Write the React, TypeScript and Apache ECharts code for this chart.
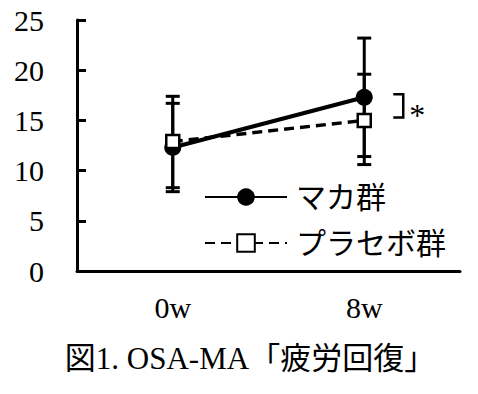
import React, { useEffect, useRef } from 'react';
import * as echarts from 'echarts';

const categories = ['0w', '8w'];
const seriesNames = ['マカ群', 'プラセボ群'];
const macaMean = [12.3, 17.3];
const macaHigh = [16.7, 23.2];
const macaLow = [7.9, 11.4];
const placeboMean = [12.9, 15.0];
const placeboHigh = [17.4, 19.6];
const placeboLow = [8.3, 10.6];
const yMin = 0;
const yMax = 25;
const yInterval = 5;
const titleText = '図1. OSA-MA「疲労回復」';
const sigMark = '*';
const sigIndex = 1;

const FONT = "'Liberation Serif', 'Noto Sans CJK JP', serif";

export default function App() {
  const ref = useRef<HTMLDivElement>(null);
  useEffect(() => {
    if (!ref.current) return;
    const chart = echarts.init(ref.current, null, { renderer: 'svg' });
    const errData = (lo: number[], hi: number[]) => lo.map((l, i) => [i, l, hi[i]]);
    const errRender = (params: any, api: any) => {
      const x = api.value(0);
      const top = api.coord([x, api.value(2)]);
      const bot = api.coord([x, api.value(1)]);
      const hw = 7;
      const style = { stroke: '#000', lineWidth: 3 };
      return {
        type: 'group',
        children: [
          { type: 'line', shape: { x1: top[0], y1: top[1], x2: bot[0], y2: bot[1] }, style },
          { type: 'line', shape: { x1: top[0] - hw, y1: top[1], x2: top[0] + hw, y2: top[1] }, style },
          { type: 'line', shape: { x1: bot[0] - hw, y1: bot[1], x2: bot[0] + hw, y2: bot[1] }, style },
        ],
      };
    };
    chart.setOption({
      animation: false,
      grid: { left: 77, right: 18, top: 20, bottom: 123 },
      legend: {
        data: seriesNames,
        orient: 'vertical',
        left: 204,
        top: 182,
        padding: 0,
        itemWidth: 82,
        itemHeight: 22,
        itemGap: 16,
        textStyle: { fontSize: 30, lineHeight: 22, color: '#000', fontFamily: FONT, padding: [0, 0, 0, 4] },
      },
      xAxis: {
        type: 'category',
        data: categories,
        boundaryGap: true,
        axisLine: { lineStyle: { color: '#000', width: 3 } },
        axisTick: { show: false },
        axisLabel: { fontSize: 30, color: '#000', fontFamily: FONT, margin: 21 },
      },
      yAxis: {
        type: 'value',
        min: yMin,
        max: yMax,
        interval: yInterval,
        splitLine: { show: false },
        axisLine: { show: true, lineStyle: { color: '#000', width: 3 } },
        axisTick: { show: true, inside: true, length: 9, lineStyle: { color: '#000', width: 3 } },
        axisLabel: { fontSize: 30, color: '#000', fontFamily: FONT, margin: 33 },
      },
      graphic: [
        {
          type: 'text',
          x: 250,
          y: 358,
          style: {
            text: titleText,
            fontSize: 31,
            fontFamily: FONT,
            fill: '#000',
            textAlign: 'center',
            textVerticalAlign: 'middle',
          },
        },
      ],
      series: [
        {
          type: 'custom',
          renderItem: errRender,
          data: errData(macaLow, macaHigh),
          encode: { x: 0, y: [1, 2] },
          z: 1,
          silent: true,
        },
        {
          type: 'custom',
          renderItem: errRender,
          data: errData(placeboLow, placeboHigh),
          encode: { x: 0, y: [1, 2] },
          z: 1,
          silent: true,
        },
        {
          name: seriesNames[0],
          type: 'line',
          data: macaMean,
          symbol: 'circle',
          symbolSize: 17,
          lineStyle: { color: '#000', width: 4 },
          itemStyle: { color: '#000' },
          z: 3,
        },
        {
          name: seriesNames[1],
          type: 'line',
          data: placeboMean,
          symbol: 'rect',
          symbolSize: 13,
          lineStyle: { color: '#000', width: 3.5, type: [10, 6] },
          itemStyle: { color: '#fff', borderColor: '#000', borderWidth: 2.5 },
          z: 4,
        },
        {
          type: 'custom',
          data: [[sigIndex, macaMean[sigIndex], placeboMean[sigIndex]]],
          encode: { x: 0, y: [1, 2] },
          silent: true,
          z: 5,
          renderItem: (params: any, api: any) => {
            const x = api.value(0);
            const a = api.coord([x, api.value(1)]);
            const b = api.coord([x, api.value(2)]);
            const x1 = a[0] + 29;
            const x2 = a[0] + 39;
            const y1 = a[1] - 3;
            const y2 = b[1] - 3;
            return {
              type: 'group',
              children: [
                {
                  type: 'polyline',
                  shape: { points: [[x1, y1], [x2, y1], [x2, y2], [x1, y2]] },
                  style: { stroke: '#000', lineWidth: 2.5, fill: null },
                },
                {
                  type: 'text',
                  x: a[0] + 53,
                  y: (y1 + y2) / 2 + 9,
                  style: {
                    text: sigMark,
                    fontSize: 32,
                    fontFamily: FONT,
                    fill: '#000',
                    textAlign: 'center',
                    textVerticalAlign: 'middle',
                  },
                },
              ],
            };
          },
        },
      ],
    });
    return () => chart.dispose();
  }, []);
  return <div ref={ref} style={{ width: 478, height: 394, position: 'absolute', left: 0, top: 0 }} />;
}
